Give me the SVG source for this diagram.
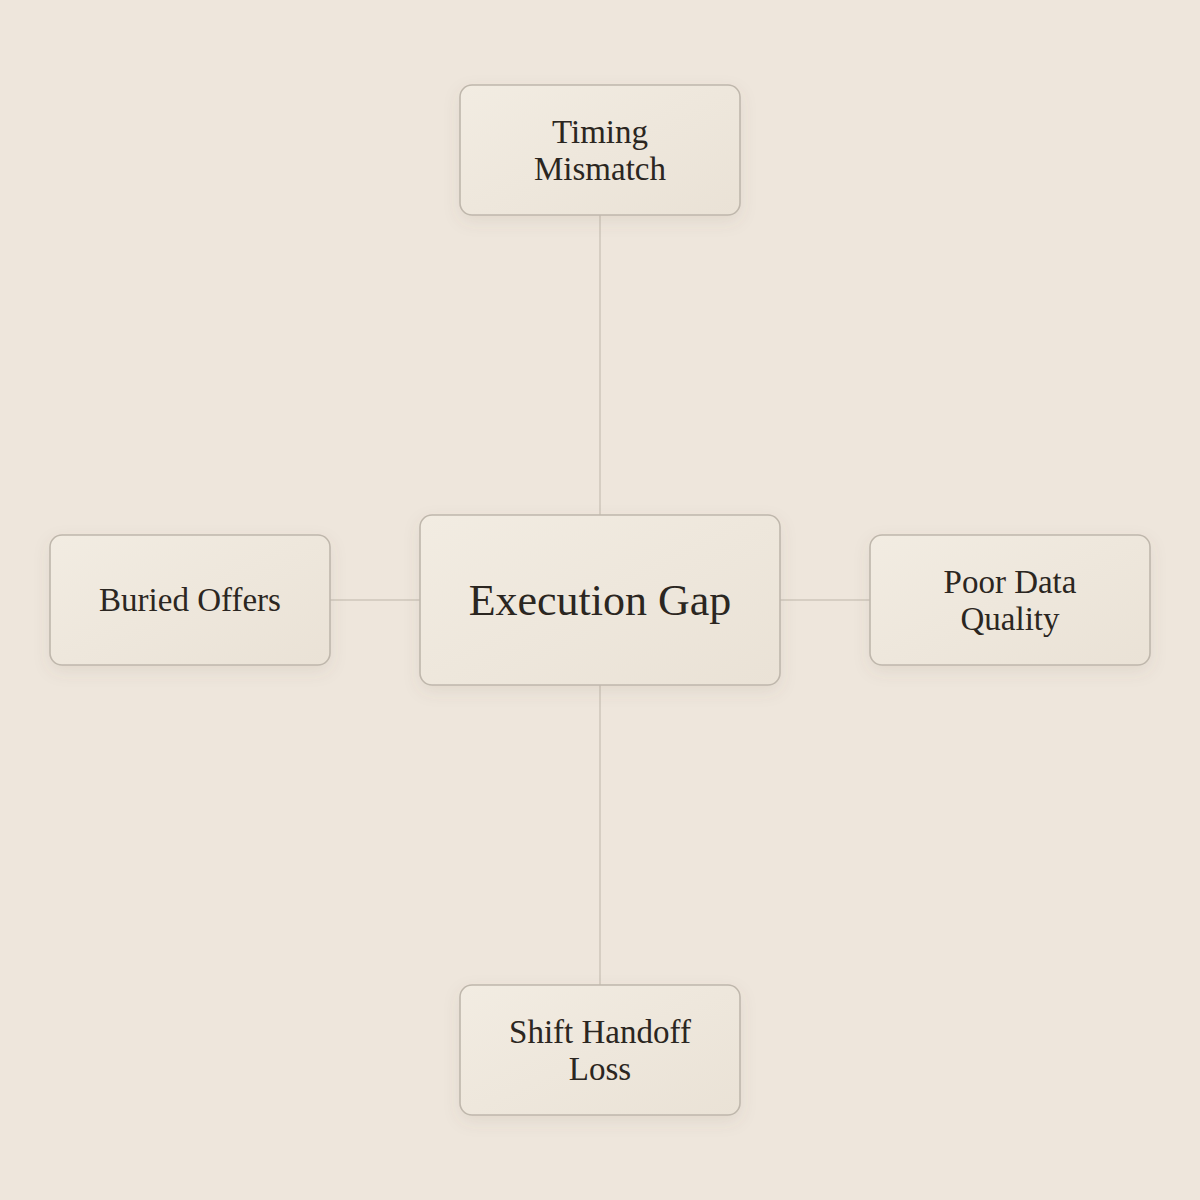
<svg xmlns="http://www.w3.org/2000/svg" width="1200" height="1200" viewBox="0 0 1200 1200">
<defs>
<linearGradient id="boxFill" x1="0" y1="0" x2="1" y2="1">
<stop offset="0" stop-color="#F2ECE2"/>
<stop offset="1" stop-color="#EAE2D6"/>
</linearGradient>
<filter id="shadow" x="-20%" y="-20%" width="140%" height="150%">
<feDropShadow dx="0" dy="6" stdDeviation="8" flood-color="#6B5A45" flood-opacity="0.10"/>
</filter>
</defs>
<style>
.box { fill: url(#boxFill); stroke: #BFB7AC; stroke-width: 1.6; filter: url(#shadow); }
.edge { stroke: #CEC6BB; stroke-width: 1.5; fill: none; }
.label { font-family: "Liberation Serif", "Times New Roman", serif; fill: #2B2621; text-anchor: middle; }
.small { font-size: 33px; }
.big { font-size: 44px; }
</style>
<rect width="1200" height="1200" fill="#EEE6DC"/>
<g id="connectors">
<line class="edge" x1="600" y1="215" x2="600" y2="515"/>
<line class="edge" x1="600" y1="685" x2="600" y2="985"/>
<line class="edge" x1="330" y1="600" x2="420" y2="600"/>
<line class="edge" x1="780" y1="600" x2="870" y2="600"/>
</g>
<g id="node-center">
<rect class="box" x="420" y="515" width="360" height="170" rx="12"/>
<text class="label big" x="600" y="615">Execution Gap</text>
</g>
<g id="node-top">
<rect class="box" x="460" y="85" width="280" height="130" rx="12"/>
<text class="label small" x="600" y="143">Timing</text>
<text class="label small" x="600" y="180">Mismatch</text>
</g>
<g id="node-left">
<rect class="box" x="50" y="535" width="280" height="130" rx="12"/>
<text class="label small" x="190" y="611">Buried Offers</text>
</g>
<g id="node-right">
<rect class="box" x="870" y="535" width="280" height="130" rx="12"/>
<text class="label small" x="1010" y="593">Poor Data</text>
<text class="label small" x="1010" y="630">Quality</text>
</g>
<g id="node-bottom">
<rect class="box" x="460" y="985" width="280" height="130" rx="12"/>
<text class="label small" x="600" y="1043">Shift Handoff</text>
<text class="label small" x="600" y="1080">Loss</text>
</g>
</svg>
